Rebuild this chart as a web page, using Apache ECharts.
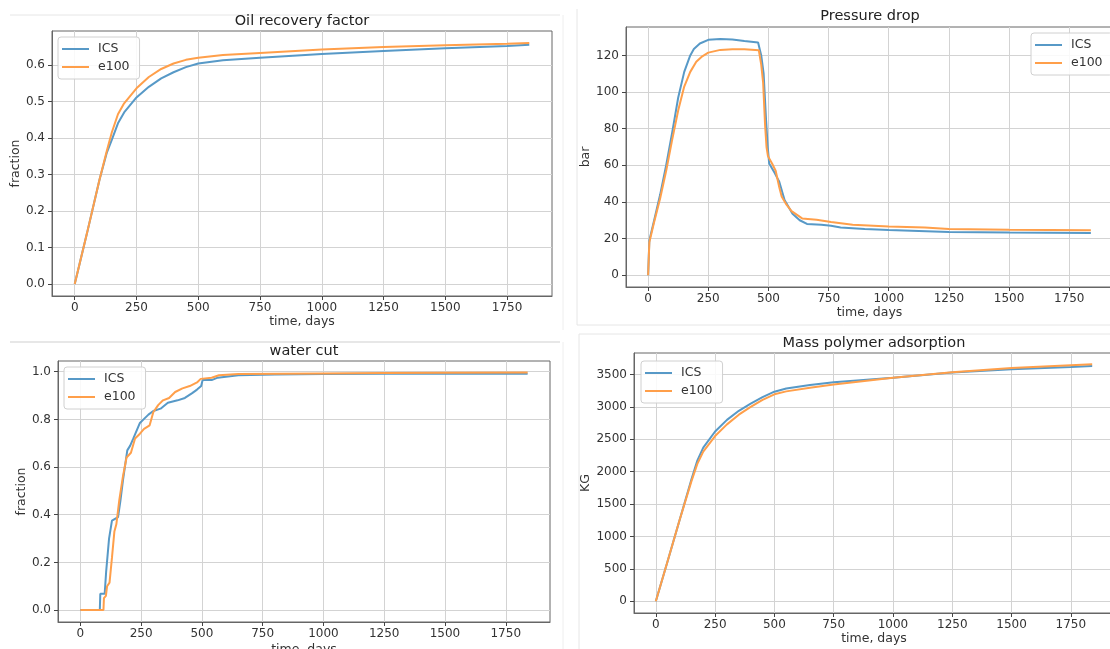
<!DOCTYPE html>
<html lang="en">
<head>
<meta charset="UTF-8">
<title>ICS vs e100</title>
<style>
  * { margin: 0; padding: 0; }
  #chart { width: 1110px; height: 649px; background: #fff; }
</style>
</head>
<body>
<div id="chart"></div>
<script src="https://cdn.jsdelivr.net/npm/echarts@6/dist/echarts.min.js"></script>
<script>
// tick labels
const dayTicks = [0, 250, 500, 750, 1000, 1250, 1500, 1750];
const oilTicks = [0, 0.1, 0.2, 0.3, 0.4, 0.5, 0.6];
const pdTicks = [0, 20, 40, 60, 80, 100, 120];
const wcTicks = [0, 0.2, 0.4, 0.6, 0.8, 1.0];
const massTicks = [0, 500, 1000, 1500, 2000, 2500, 3000, 3500];

// Oil recovery factor
const oilDays = [0, 50, 100, 130, 150, 175, 200, 250, 300, 350, 400, 450, 500, 600, 750, 1000, 1250, 1500, 1750, 1840];
const oilICS = [0, 0.14, 0.285, 0.36, 0.395, 0.44, 0.47, 0.511, 0.54, 0.563, 0.58, 0.594, 0.604, 0.613, 0.62, 0.63, 0.638, 0.646, 0.652, 0.655];
const oilE100 = [0, 0.14, 0.285, 0.365, 0.415, 0.465, 0.495, 0.536, 0.567, 0.589, 0.604, 0.614, 0.62, 0.627, 0.633, 0.642, 0.649, 0.654, 0.658, 0.66];

// Pressure drop
const pdDaysICS = [0, 5, 25, 50, 75, 100, 125, 150, 175, 190, 215, 250, 300, 350, 400, 457, 470, 480, 490, 497, 503, 525, 545, 567, 600, 630, 660, 720, 760, 800, 900, 1000, 1250, 1500, 1840];
const pdICS = [0, 19, 30, 44, 60, 78, 97, 111, 120, 123.5, 126.5, 128.5, 129, 128.7, 127.8, 127, 120, 110, 85, 70, 61, 56, 51, 41, 33.5, 30, 28, 27.5, 27, 26, 25.2, 24.7, 23.6, 23.3, 23];
const pdDaysE100 = [0, 5, 25, 50, 75, 100, 125, 150, 175, 200, 225, 250, 300, 350, 400, 460, 470, 478, 486, 492, 498, 515, 530, 545, 555, 575, 596, 640, 700, 760, 850, 1000, 1150, 1250, 1500, 1840];
const pdE100 = [0, 18, 29, 42, 57, 74, 90, 103, 111, 116.5, 119.5, 121.5, 123, 123.3, 123.3, 122.8, 115, 105, 82, 70, 65, 61, 57, 48, 43, 38.5, 35, 31, 30.3, 29, 27.6, 26.6, 26, 25.2, 24.8, 24.5];

// water cut
const wcDaysICS = [0, 80, 82, 100, 106, 118, 130, 155, 165, 176, 193, 205, 218, 245, 260, 280, 300, 330, 360, 400, 430, 460, 480, 497, 503, 540, 565, 650, 800, 1000, 1250, 1500, 1840];
const wcICS = [0, 0, 0.068, 0.068, 0.16, 0.30, 0.375, 0.39, 0.46, 0.55, 0.67, 0.69, 0.72, 0.785, 0.80, 0.82, 0.835, 0.845, 0.87, 0.88, 0.89, 0.91, 0.925, 0.94, 0.965, 0.965, 0.975, 0.985, 0.988, 0.99, 0.991, 0.992, 0.992];
const wcDaysE100 = [0, 95, 97, 105, 110, 120, 130, 140, 148, 160, 175, 190, 208, 225, 245, 262, 285, 300, 320, 340, 365, 390, 420, 450, 480, 495, 540, 570, 650, 1000, 1250, 1500, 1840];
const wcE100 = [0, 0, 0.05, 0.06, 0.1, 0.115, 0.22, 0.33, 0.36, 0.46, 0.56, 0.64, 0.66, 0.72, 0.74, 0.76, 0.775, 0.83, 0.86, 0.88, 0.89, 0.915, 0.93, 0.94, 0.955, 0.97, 0.975, 0.985, 0.99, 0.993, 0.995, 0.996, 0.997];

// Mass polymer adsorption
const massDays = [0, 50, 100, 150, 175, 200, 250, 300, 350, 400, 450, 500, 550, 650, 750, 1000, 1250, 1500, 1750, 1840];
const massICS = [0, 620, 1250, 1880, 2170, 2370, 2620, 2800, 2940, 3050, 3150, 3235, 3285, 3340, 3380, 3450, 3530, 3580, 3615, 3630];
const massE100 = [0, 620, 1250, 1850, 2120, 2310, 2550, 2730, 2880, 3000, 3110, 3195, 3240, 3295, 3345, 3450, 3535, 3600, 3645, 3660];

const blue = '#5799c7';
const orange = '#ff9f4a';
const font = 'DejaVu Sans';
const txt = '#333';

const pairs = (xs, ys) => xs.map((x, i) => [x, ys[i]]);

// plot boxes [left, top, width, height]
const boxes = [
    [52, 31, 500, 265],
    [626, 27, 487, 260],
    [58, 361, 492, 261],
    [634, 353, 480, 260]
];
const titles = [
    ['Oil recovery factor', 302, 14],
    ['Pressure drop', 870, 9],
    ['water cut', 304, 344],
    ['Mass polymer adsorption', 874, 336]
];
const yInfo = [
    { name: 'fraction', gap: 29, min: -0.033, max: 0.693, ticks: oilTicks, fmt: v => v.toFixed(1) },
    { name: 'bar', gap: 31, min: -6.45, max: 135.5, ticks: pdTicks, fmt: v => String(v) },
    { name: 'fraction', gap: 28, min: -0.05, max: 1.045, ticks: wcTicks, fmt: v => v.toFixed(1) },
    { name: 'KG', gap: 40, min: -182.5, max: 3832.5, ticks: massTicks, fmt: v => String(v) }
];
const legendPos = [[58, 37], [1031, 33], [64, 367], [641, 361]];
const xGaps = [19, 19, 21, 18];

const tickLine = { show: true, length: 4, lineStyle: { color: '#444' } };
const splitLine = { show: true, lineStyle: { color: '#d3d3d3', width: 1 } };

let chart = echarts.init(document.getElementById('chart'));

let option = {
    backgroundColor: '#fff',
    animation: false,
    textStyle: { fontFamily: font },
    title: titles.map(t => ({
        text: t[0], left: t[1], top: t[2], textAlign: 'center', padding: 0,
        textStyle: { fontFamily: font, fontSize: 14.5, fontWeight: 'normal', color: '#222' }
    })),
    grid: boxes.map(b => ({
        left: b[0], top: b[1], width: b[2], height: b[3],
        show: true, borderColor: '#666', borderWidth: 1,
        containLabel: false, outerBoundsMode: 'none'
    })),
    legend: legendPos.map(p => ({
        data: ['ICS', 'e100'],
        left: p[0], top: p[1], orient: 'vertical',
        icon: 'rect', itemWidth: 27, itemHeight: 2, itemGap: 4,
        padding: [5, 10, 5, 4],
        borderColor: '#d0d0d0', borderWidth: 1, borderRadius: 3,
        backgroundColor: 'rgba(255,255,255,0.85)',
        textStyle: { fontFamily: font, fontSize: 12.5, color: txt, padding: [0, 0, 0, 4], lineHeight: 14 }
    })),
    xAxis: boxes.map((b, i) => ({
        type: 'value', gridIndex: i, min: -92, max: 1932,
        name: 'time, days', nameLocation: 'middle', nameGap: xGaps[i],
        nameTextStyle: { fontFamily: font, fontSize: 12.5, color: txt },
        axisLine: { show: true, onZero: false, lineStyle: { color: '#666' } },
        axisTick: Object.assign({ customValues: dayTicks }, tickLine),
        axisLabel: { customValues: dayTicks, formatter: v => String(v), margin: 6, fontFamily: font, fontSize: 12, color: txt },
        splitLine: splitLine
    })),
    yAxis: yInfo.map((y, i) => ({
        type: 'value', gridIndex: i, min: y.min, max: y.max,
        name: y.name, nameLocation: 'middle', nameGap: y.gap, nameRotate: 90,
        nameTextStyle: { fontFamily: font, fontSize: 12.5, color: txt },
        axisLine: { show: true, onZero: false, lineStyle: { color: '#666' } },
        axisTick: Object.assign({ customValues: y.ticks }, tickLine),
        axisLabel: { customValues: y.ticks, formatter: y.fmt, margin: 7, fontFamily: font, fontSize: 12, color: txt },
        splitLine: splitLine
    })),
    graphic: [
        // light edges of the pasted screenshots
        { type: 'line', shape: { x1: 10, y1: 15, x2: 560, y2: 15 }, style: { stroke: '#e6e6e6', lineWidth: 1 } },
        { type: 'line', shape: { x1: 563, y1: 15, x2: 563, y2: 330 }, style: { stroke: '#eeeeee', lineWidth: 1 } },
        { type: 'line', shape: { x1: 577, y1: 9, x2: 577, y2: 325 }, style: { stroke: '#e6e6e6', lineWidth: 1 } },
        { type: 'line', shape: { x1: 577, y1: 325, x2: 1110, y2: 325 }, style: { stroke: '#e6e6e6', lineWidth: 1 } },
        { type: 'line', shape: { x1: 10, y1: 342, x2: 560, y2: 342 }, style: { stroke: '#cfcfcf', lineWidth: 1 } },
        { type: 'line', shape: { x1: 563, y1: 342, x2: 563, y2: 649 }, style: { stroke: '#eeeeee', lineWidth: 1 } },
        { type: 'line', shape: { x1: 579, y1: 334, x2: 579, y2: 649 }, style: { stroke: '#e6e6e6', lineWidth: 1 } },
        { type: 'line', shape: { x1: 579, y1: 334, x2: 1110, y2: 334 }, style: { stroke: '#e6e6e6', lineWidth: 1 } }
    ],
    series: []
};

const seriesData = [
    [pairs(oilDays, oilICS), pairs(oilDays, oilE100)],
    [pairs(pdDaysICS, pdICS), pairs(pdDaysE100, pdE100)],
    [pairs(wcDaysICS, wcICS), pairs(wcDaysE100, wcE100)],
    [pairs(massDays, massICS), pairs(massDays, massE100)]
];

seriesData.forEach((d, i) => {
    option.series.push({
        name: 'ICS', type: 'line', xAxisIndex: i, yAxisIndex: i,
        data: d[0], symbol: 'none', showSymbol: false, z: 3,
        lineStyle: { color: blue, width: 2 }, itemStyle: { color: blue }
    });
    option.series.push({
        name: 'e100', type: 'line', xAxisIndex: i, yAxisIndex: i,
        data: d[1], symbol: 'none', showSymbol: false, z: 4,
        lineStyle: { color: orange, width: 2 }, itemStyle: { color: orange }
    });
});

chart.setOption(option);
</script>
</body>
</html>
